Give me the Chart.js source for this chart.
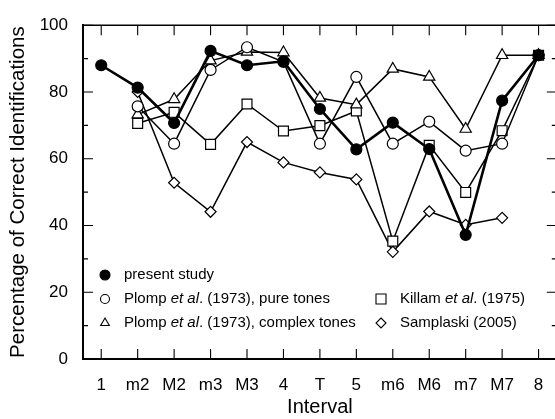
<!DOCTYPE html>
<html>
<head>
<meta charset="utf-8">
<script src="https://cdn.jsdelivr.net/npm/chart.js@4/dist/chart.umd.min.js"></script>
<style>
  html, body { margin: 0; padding: 0; overflow: hidden; background: #fff; }
  #wrap { width: 565px; height: 419px; }
</style>
</head>
<body>
<div id="wrap"><canvas id="intervalChart"></canvas></div>
<script>
// interval categories along the x axis
var intervals = ['1', 'm2', 'M2', 'm3', 'M3', '4', 'T', '5', 'm6', 'M6', 'm7', 'M7', '8'];
var yTicks = [0, 20, 40, 60, 80, 100];

// percentage correct
var presentStudy = [88, 81.3, 70.7, 92.3, 88, 89.2, 74.9, 62.8, 70.8, 62.9, 37.2, 77.4, 91];
var plompPure = [null, 75.7, 64.5, 86.6, 93.4, 89, 64.5, 84.5, 64.5, 71.1, 62.4, 64.5, 91];
var plompComplex = [null, 73.2, 77.8, 89.4, 92, 91.8, 78.2, 76.2, 86.9, 84.5, 68.9, 91, 91];
var killam = [null, 70.6, 73.9, 64.3, 76.4, 68.3, 69.9, 74.3, 35.3, 64, 49.9, 68.4, 91];
var samplaski = [null, 80, 52.8, 44.1, 65, 58.9, 55.9, 53.8, 32.1, 44.2, 40.2, 42.3, null];

var seriesNames = [
  'present study',
  'Plomp et al. (1973), pure tones',
  'Plomp et al. (1973), complex tones',
  'Killam et al. (1975)',
  'Samplaski (2005)'
];

var FONT = '"Liberation Sans", Arial, Helvetica, sans-serif';

function series(name, data, style, radius, fill, lineW) {
  return {
    label: name,
    data: data,
    borderColor: '#000',
    borderWidth: lineW,
    pointStyle: style,
    pointRadius: radius,
    pointHoverRadius: radius,
    pointBackgroundColor: fill,
    pointBorderColor: '#000',
    pointBorderWidth: 1.2,
    tension: 0,
    fill: false
  };
}

// small marker drawer for the inset legend
function drawMarker(ctx, style, x, y, r, fill) {
  ctx.save();
  ctx.beginPath();
  if (style === 'circle') {
    ctx.arc(x, y, r, 0, Math.PI * 2);
  } else if (style === 'triangle') {
    ctx.moveTo(x, y - r);
    ctx.lineTo(x + r * 0.866, y + r * 0.5);
    ctx.lineTo(x - r * 0.866, y + r * 0.5);
    ctx.closePath();
  } else if (style === 'rect') {
    ctx.rect(x - r, y - r, 2 * r, 2 * r);
  } else if (style === 'rectRot') {
    ctx.moveTo(x, y - r);
    ctx.lineTo(x + r, y);
    ctx.lineTo(x, y + r);
    ctx.lineTo(x - r, y);
    ctx.closePath();
  }
  ctx.fillStyle = fill;
  ctx.fill();
  ctx.lineWidth = 1.1;
  ctx.strokeStyle = '#000';
  ctx.stroke();
  ctx.restore();
}

// text with "et al" in italics
function drawName(ctx, name, x, y) {
  var parts = name.split('et al');
  ctx.textBaseline = 'middle';
  ctx.textAlign = 'left';
  ctx.fillStyle = '#000';
  for (var i = 0; i < parts.length; i++) {
    ctx.font = '15px ' + FONT;
    ctx.fillText(parts[i], x, y);
    x += ctx.measureText(parts[i]).width;
    if (i < parts.length - 1) {
      ctx.font = 'italic 15px ' + FONT;
      ctx.fillText('et al', x, y);
      x += ctx.measureText('et al').width;
    }
  }
}

var framePlugin = {
  id: 'frame',
  afterDraw: function(chart) {
    var ctx = chart.ctx, a = chart.chartArea;
    var xs = chart.scales.x, ys = chart.scales.y;
    ctx.save();
    ctx.strokeStyle = '#000';
    // top and right border
    ctx.lineWidth = 1.5;
    ctx.beginPath();
    ctx.moveTo(a.left, a.top);
    ctx.lineTo(a.right, a.top);
    ctx.lineTo(a.right, a.bottom);
    ctx.stroke();
    // inward tick marks
    ctx.lineWidth = 1.1;
    ctx.beginPath();
    yTicks.forEach(function(v) {
      var py = ys.getPixelForValue(v);
      ctx.moveTo(a.left, py); ctx.lineTo(a.left + 10, py);
      ctx.moveTo(a.right, py); ctx.lineTo(a.right - 10, py);
      if (v < 100) {
        var pm = ys.getPixelForValue(v + 10);
        ctx.moveTo(a.left, pm); ctx.lineTo(a.left + 5, pm);
        ctx.moveTo(a.right, pm); ctx.lineTo(a.right - 5, pm);
      }
    });
    intervals.forEach(function(lab, i) {
      var px = xs.getPixelForValue(i);
      ctx.moveTo(px, a.bottom); ctx.lineTo(px, a.bottom - 10);
      ctx.moveTo(px, a.top); ctx.lineTo(px, a.top + 10);
    });
    ctx.stroke();

    // inset legend
    var styles = ['circle', 'circle', 'triangle', 'rect', 'rectRot'];
    var fills = ['#000', '#fff', '#fff', '#fff', '#fff'];
    var radii = [5, 4.5, 5, 5, 5];
    var spots = [[105, 275], [105, 299], [105, 323], [381, 299], [381, 323]];
    seriesNames.forEach(function(name, i) {
      drawMarker(ctx, styles[i], spots[i][0], spots[i][1], radii[i], fills[i]);
      drawName(ctx, name, spots[i][0] + 19, spots[i][1]);
    });
    ctx.restore();
  }
};

var ctx = document.getElementById('intervalChart');
var intervalChart = new Chart(ctx, {
  type: 'line',
  data: {
    labels: intervals,
    datasets: [
      series(seriesNames[0], presentStudy, 'circle', 5.5, '#000', 2.6),
      series(seriesNames[1], plompPure, 'circle', 5.5, '#fff', 1.5),
      series(seriesNames[2], plompComplex, 'triangle', 6.5, '#fff', 1.5),
      series(seriesNames[3], killam, 'rect', 7, '#fff', 1.5),
      series(seriesNames[4], samplaski, 'rectRot', 5.5, '#fff', 1.5)
    ]
  },
  options: {
    responsive: true,
    maintainAspectRatio: false,
    animation: false,
    layout: { padding: { top: 17, right: 1, left: 0, bottom: 0 } },
    plugins: {
      legend: { display: false },
      tooltip: { enabled: false }
    },
    scales: {
      x: {
        type: 'category',
        offset: true,
        grid: { display: true, drawOnChartArea: false, drawTicks: false },
        border: { display: true, color: '#000', width: 2 },
        ticks: { color: '#000', font: { family: FONT, size: 17 }, padding: 16, maxRotation: 0, autoSkip: false },
        title: { display: true, text: 'Interval', color: '#000', font: { family: FONT, size: 20 }, padding: { top: 0, bottom: 0 } },
        afterFit: function(scale) { scale.height = 60; }
      },
      y: {
        min: 0,
        max: 100,
        afterBuildTicks: function(scale) {
          scale.ticks = yTicks.map(function(v) { return { value: v }; });
        },
        grid: { display: true, drawOnChartArea: false, drawTicks: false },
        border: { display: true, color: '#000', width: 2 },
        ticks: { color: '#000', font: { family: FONT, size: 17 }, padding: 15 },
        title: { display: true, text: 'Percentage of Correct Identifications', color: '#000', font: { family: FONT, size: 20.5 }, padding: { top: 6, bottom: 0 } },
        afterFit: function(scale) { scale.width = 83; }
      }
    }
  },
  plugins: [framePlugin]
});
</script>
</body>
</html>
